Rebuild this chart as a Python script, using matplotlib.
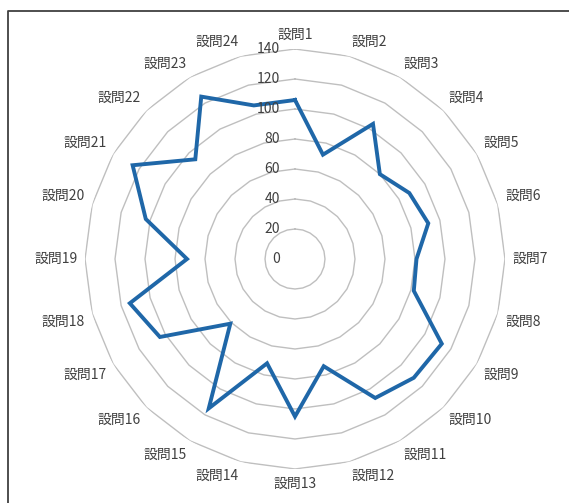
import numpy as np
import matplotlib
matplotlib.use("Agg")
import matplotlib.pyplot as plt
from matplotlib.lines import Line2D

plt.rcParams['font.family'] = ['Noto Sans CJK JP', 'DejaVu Sans']

# data
labels = ['設問%d' % i for i in range(1, 25)]
values = [106, 72, 104, 80, 88, 92, 81, 82, 113, 112, 107, 74,
          105, 72, 115, 61, 104, 114, 72, 103, 125, 94, 125, 106]
levels = [0, 20, 40, 60, 80, 100, 120, 140]

line_color = '#1f67a8'
grid_color = '#bfbfbf'
text_color = '#404040'

n = len(labels)
angles = np.arange(n) * 2 * np.pi / n

fig = plt.figure(figsize=(5.69, 5.03), dpi=100)
ax = fig.add_axes([0.1494, 0.0676, 0.7381, 0.835], projection='polar')
ax.set_theta_offset(np.pi / 2)
ax.set_theta_direction(-1)
ax.set_ylim(0, 140)
ax.grid(False)
ax.spines['polar'].set_visible(False)
ax.set_xticks([])
ax.set_yticks([])
ax.patch.set_alpha(0)

closed = np.append(angles, angles[0])

# polygon gridlines
for lv in levels[1:]:
    ax.plot(closed, [lv] * (n + 1), color=grid_color, lw=1.0, zorder=1)

# data series
vals = np.append(values, values[0])
ax.plot(closed, vals, color=line_color, lw=2.8, solid_joinstyle='miter', zorder=3)

# category labels
for a, lab in zip(angles, labels):
    s, c = np.sin(a), np.cos(a)
    ha = 'left' if s > 0.1 else ('right' if s < -0.1 else 'center')
    va = 'bottom' if c > 0.1 else ('top' if c < -0.1 else 'center')
    ax.text(a, 145, lab, ha=ha, va=va, fontsize=10, color=text_color,
            clip_on=False)

# radial tick labels
for lv in levels:
    ax.annotate(str(lv), xy=(0, lv), xytext=(-15, 0), textcoords='offset pixels',
                ha='right', va='center', fontsize=10, color=text_color,
                annotation_clip=False)

# frame (top and left edges visible)
x0 = 7.5 / 569
y0 = 1 - 10.5 / 503
fig.add_artist(Line2D([x0, x0, 1.0], [0.0, y0, y0], transform=fig.transFigure,
                      color='#404040', lw=1.3))

fig.savefig('out.png', dpi=100)
